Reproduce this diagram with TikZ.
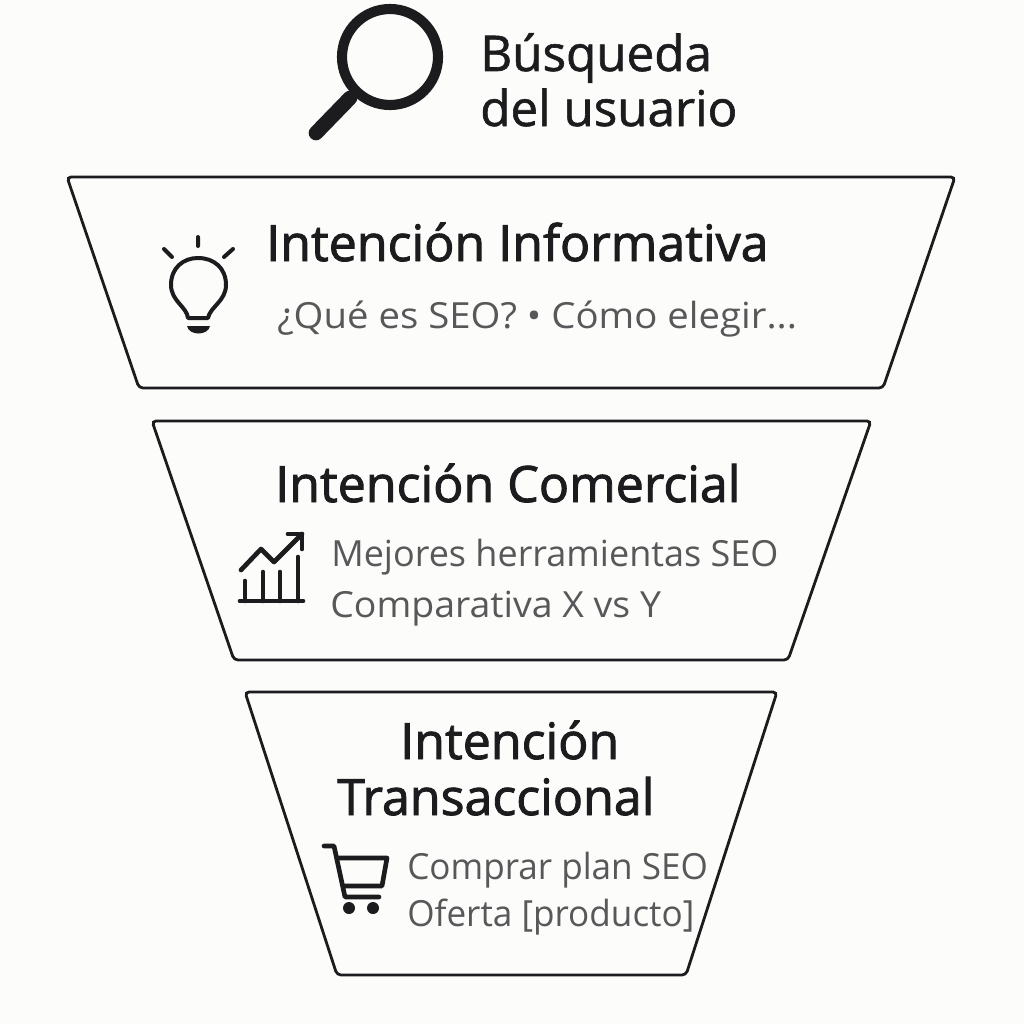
\documentclass[tikz,border=0pt]{standalone}
\usepackage{fontspec}
\setmainfont{Open Sans}
\newfontfamily\headfont[FakeBold=1.8]{Open Sans}
\newfontfamily\searchfont[FakeBold=1.2]{Open Sans}
\newfontfamily\wideA[FakeStretch=1.065]{Open Sans}
\newfontfamily\wideB[FakeStretch=1.04]{Open Sans}
\newfontfamily\narrowC[FakeStretch=0.975]{Open Sans}
\definecolor{ink}{HTML}{1C1C1E}
\definecolor{sub}{HTML}{58585A}
\definecolor{paper}{HTML}{FCFCFA}
\tikzset{
  funnelbox/.style={draw=ink,line width=2.1pt,rounded corners=3pt},
  heading/.style={text=ink,anchor=base west,inner sep=0pt,font=\headfont\fontsize{37.6}{40}\selectfont},
  titletext/.style={text=ink,anchor=base west,inner sep=0pt,font=\searchfont\fontsize{37}{40}\selectfont},
  detail/.style={text=sub,anchor=base west,inner sep=0pt,font=\fontsize{27}{32}\selectfont},
  icon/.style={draw=ink,line width=3pt,line cap=round,line join=round},
  iconheavy/.style={icon,line width=3.5pt}
}
\begin{document}
\begin{tikzpicture}[x=0.75pt,y=-0.75pt]
\useasboundingbox (0,0) rectangle (1024,1024);
\fill[paper] (0,0) rectangle (1024,1024);
% funnel
\draw[funnelbox] (67,177)--(955,177)--(883,388)--(139,388)--cycle;
\draw[funnelbox] (152,421)--(871,421)--(788,660)--(234,660)--cycle;
\draw[funnelbox] (245,692)--(777,692)--(686,975)--(337,975)--cycle;
% magnifier
\draw[ink,line width=7.6pt] (390,57) circle (48);
\draw[ink,line width=11pt,line cap=round] (316,133)--(350,98);
% texts
\node[titletext] (search1) at (480,71) {Búsqueda};
\node[titletext] (search2) at (480,126) {del usuario};
\node[heading] (info) at (266,261) {Intención Informativa};
\node[detail,font=\wideA\fontsize{27}{32}\selectfont] (infod) at (277,328) {¿Qué es SEO? • Cómo elegir...};
\node[heading] (comm) at (275,502) {Intención Comercial};
\node[detail] (comm1) at (331,566) {Mejores herramientas SEO};
\node[detail,font=\wideB\fontsize{27}{32}\selectfont] (comm2) at (330,617) {Comparativa X vs Y};
\node[heading] (trans1) at (400,759) {Intención};
\node[heading] (trans2) at (337,815) {Transaccional};
\node[detail,font=\narrowC\fontsize{27}{32}\selectfont] (trans3) at (407,879) {Comprar plan SEO};
\node[detail,font=\narrowC\fontsize{27}{32}\selectfont] (trans4) at (407,926) {Oferta [producto]};
% bulb
\draw[icon] (198,237)--(198,246) (164,249)--(172,257) (233,249)--(224,257);
\draw[icon] (188,318) .. controls (187,307) and (171,301) .. (171,285)
  .. controls (171,268) and (183,258) .. (198,258)
  .. controls (214,258) and (226,268) .. (226,285)
  .. controls (226,301) and (210,307) .. (208,318) -- cycle;
\fill[ink] (187,326) -- (210,326) .. controls (208,336) and (189,336) .. (187,326) -- cycle;
% chart
\draw[iconheavy] (240,601)--(303,601) (245,581)--(245,601) (263,572)--(263,601) (280,572)--(280,601) (298,557)--(298,601);
\draw[iconheavy] (241,570)--(261,549)--(274,562)--(302,534);
\draw[iconheavy] (288,534)--(302,534)--(302,549);
% cart
\draw[iconheavy] (324,846)--(334,846)--(345,897)--(379,897);
\draw[iconheavy] (337,858)--(387,858)--(382,886)--(344,886);
\fill[ink] (349,908) circle (6) (373,908) circle (6);
\end{tikzpicture}
\end{document}
